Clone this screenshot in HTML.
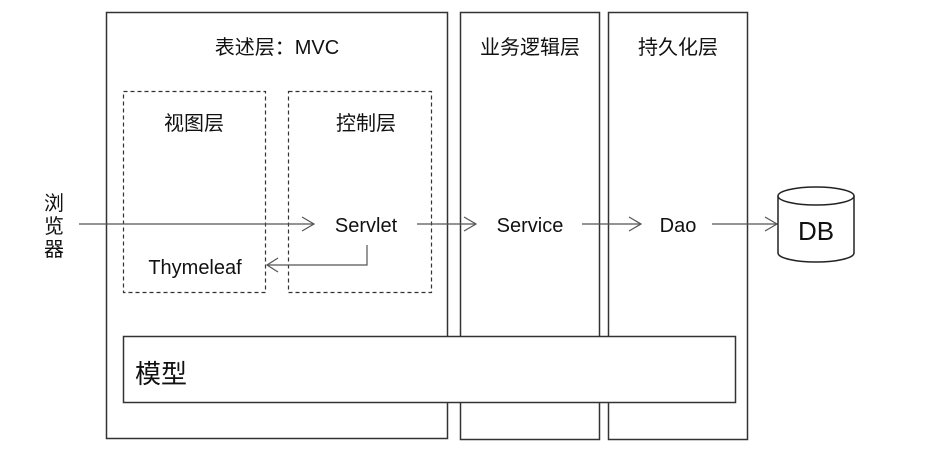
<!DOCTYPE html>
<html><head><meta charset="utf-8"><style>
html,body{margin:0;padding:0;background:#fff;width:926px;height:475px;overflow:hidden}
svg text{font-family:"Liberation Sans","Noto Sans CJK SC",sans-serif;fill:#111}
</style></head><body>
<svg width="926" height="475" xmlns="http://www.w3.org/2000/svg">
<g fill="none" stroke="#333" stroke-width="1.5">
<rect x="106.5" y="12.5" width="341" height="426"/>
<rect x="460.5" y="12.5" width="139" height="427"/>
<rect x="608.5" y="12.5" width="139" height="427"/>
</g>
<rect x="123.5" y="336.5" width="612" height="66" fill="#fff" stroke="#333" stroke-width="1.5"/>
<g fill="none" stroke="#333" stroke-width="1.2" stroke-dasharray="4,3">
<rect x="123.5" y="91.5" width="142" height="201"/>
<rect x="288.5" y="91.5" width="143" height="201"/>
</g>
<g fill="none" stroke="#555" stroke-width="1.2">
<line x1="79" y1="224" x2="314" y2="224"/><polyline points="302,217 314,224 302,231"/>
<line x1="417" y1="224" x2="476" y2="224"/><polyline points="464,217 476,224 464,231"/>
<line x1="582" y1="224" x2="641" y2="224"/><polyline points="629,217 641,224 629,231"/>
<line x1="712" y1="224" x2="777" y2="224"/><polyline points="765,217 777,224 765,231"/>
<polyline points="367,245 367,265 267,265"/><polyline points="278,258 267,265 278,272"/>
</g>
<g fill="#fff" stroke="#222" stroke-width="1.5">
<path d="M778,196 L778,253 A38,9 0 0 0 854,253 L854,196"/>
<ellipse cx="816" cy="196" rx="38" ry="9"/>
</g>
<text x="277" y="54" font-size="20" text-anchor="middle">表述层：MVC</text>
<text x="530" y="54" font-size="20" text-anchor="middle">业务逻辑层</text>
<text x="678" y="54" font-size="20" text-anchor="middle">持久化层</text>
<text x="194" y="130" font-size="20" text-anchor="middle">视图层</text>
<text x="366" y="130" font-size="20" text-anchor="middle">控制层</text>
<text x="366" y="232" font-size="20" text-anchor="middle">Servlet</text>
<text x="195" y="274" font-size="20" text-anchor="middle">Thymeleaf</text>
<text x="530" y="232" font-size="20" text-anchor="middle">Service</text>
<text x="678" y="232" font-size="20" text-anchor="middle">Dao</text>
<text x="816" y="240" font-size="26" text-anchor="middle">DB</text>
<text x="135" y="383" font-size="26">模型</text>
<text x="54" y="210" font-size="20" text-anchor="middle">浏</text>
<text x="54" y="233" font-size="20" text-anchor="middle">览</text>
<text x="54" y="256" font-size="20" text-anchor="middle">器</text>
</svg>
</body></html>
